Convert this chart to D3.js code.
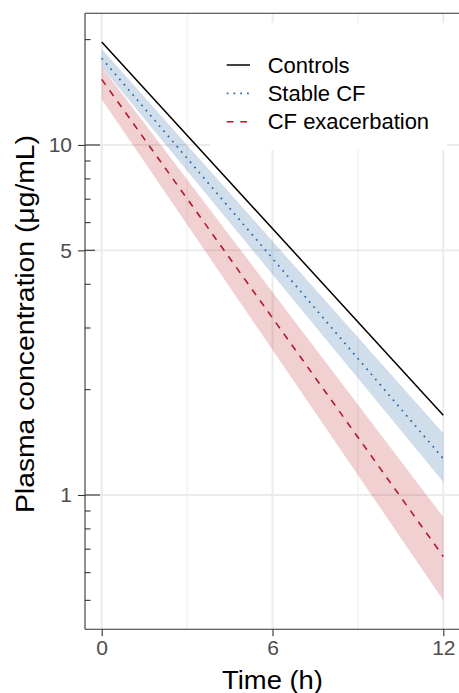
<!DOCTYPE html>
<html>
<head>
<meta charset="utf-8">
<script src="https://cdn.jsdelivr.net/npm/d3@7"></script>
<style>
  html, body { margin: 0; padding: 0; background: #fff; }
  svg { display: block; font-family: "Liberation Sans", Arial, sans-serif; }
</style>
</head>
<body>
<svg id="chart" width="459" height="693"></svg>
<script>
// ---- data ----
const times = [0, 12];
const seriesNames = ["Controls", "Stable CF", "CF exacerbation"];
const controlsMean = [19.7, 1.69];
const stableMean = [17.7, 1.27];
const stableLower = [16.7, 1.09];
const stableUpper = [18.8, 1.50];
const exacMean = [15.4, 0.667];
const exacLower = [13.5, 0.50];
const exacUpper = [16.7, 0.865];
const xTicks = [0, 6, 12];
const xMinorGrid = [3, 9];
const yTicks = [1, 5, 10];
const yTickLabels = ["1", "5", "10"];
const yLogTicks = [0.5, 0.6, 0.7, 0.8, 0.9, 1, 2, 3, 4, 5, 6, 7, 8, 9, 10, 20];

// ---- layout ----
const svg = d3.select("#chart");
const panel = { left: 85, top: 13.3, right: 461, bottom: 629.3 };

const x = d3.scaleLinear().domain([0, 12]).range([101.7, 443.3]);
const y = d3.scaleLog().domain([0.4133, 23.78]).range([panel.bottom, panel.top]);

const colors = {
  controls: "#000000",
  stable: "#2166AC",
  exac: "#B2182B",
  stableFill: "#2A64A6",
  exacFill: "#C0282E"
};

// grid
const grid = svg.append("g");
xMinorGrid.forEach(t => grid.append("line")
  .attr("x1", x(t)).attr("x2", x(t)).attr("y1", panel.top).attr("y2", panel.bottom)
  .attr("stroke", "#EBEBEB").attr("stroke-width", 1));
xTicks.forEach(t => grid.append("line")
  .attr("x1", x(t)).attr("x2", x(t)).attr("y1", panel.top).attr("y2", panel.bottom)
  .attr("stroke", "#EBEBEB").attr("stroke-width", 2));
yTicks.forEach(t => grid.append("line")
  .attr("x1", panel.left).attr("x2", panel.right).attr("y1", y(t)).attr("y2", y(t))
  .attr("stroke", "#EBEBEB").attr("stroke-width", 2));

// data
const rows = (lo, hi) => times.map((t, i) => ({ t, lo: lo[i], hi: hi[i] }));
const area = d3.area().x(d => x(d.t)).y0(d => y(d.lo)).y1(d => y(d.hi));
const line = d3.line().x(d => x(d.t)).y(d => y(d.v));
const pts = arr => times.map((t, i) => ({ t, v: arr[i] }));

svg.append("path").datum(rows(stableLower, stableUpper)).attr("d", area)
  .attr("fill", colors.stableFill).attr("fill-opacity", 0.22);
svg.append("path").datum(rows(exacLower, exacUpper)).attr("d", area)
  .attr("fill", colors.exacFill).attr("fill-opacity", 0.22);

svg.append("path").datum(pts(controlsMean)).attr("d", line)
  .attr("fill", "none").attr("stroke", colors.controls).attr("stroke-width", 1.5);
svg.append("path").datum(pts(stableMean)).attr("d", line)
  .attr("fill", "none").attr("stroke", colors.stable).attr("stroke-width", 1.7)
  .attr("stroke-dasharray", "1.7,5.1");
svg.append("path").datum(pts(exacMean)).attr("d", line)
  .attr("fill", "none").attr("stroke", colors.exac).attr("stroke-width", 1.6)
  .attr("stroke-dasharray", "6.8,6.8");

// axes lines
svg.append("line").attr("x1", panel.left).attr("x2", panel.left)
  .attr("y1", panel.top).attr("y2", panel.bottom).attr("stroke", "#333").attr("stroke-width", 1.1);
svg.append("line").attr("x1", panel.left).attr("x2", panel.right)
  .attr("y1", panel.bottom).attr("y2", panel.bottom).attr("stroke", "#333").attr("stroke-width", 1.1);
svg.append("line").attr("x1", panel.left).attr("x2", panel.right)
  .attr("y1", panel.top).attr("y2", panel.top).attr("stroke", "#333").attr("stroke-width", 1.1);

// x axis
const xAxis = d3.axisBottom(x).tickValues(xTicks).tickSize(7).tickPadding(4).tickFormat(d3.format("d"));
const gx = svg.append("g").attr("transform", `translate(0,${panel.bottom})`).call(xAxis);
gx.select(".domain").remove();
gx.selectAll(".tick line").attr("stroke", "#333").attr("stroke-width", 1.1);
gx.selectAll(".tick text").attr("fill", "#4D4D4D").attr("font-size", 21)
  .attr("font-family", "Liberation Sans, Arial, sans-serif");

// y axis
const yAxis = d3.axisLeft(y).tickValues(yTicks).tickSize(7).tickPadding(6)
  .tickFormat((d, i) => yTickLabels[i]);
const gy = svg.append("g").attr("transform", `translate(${panel.left},0)`).call(yAxis);
gy.select(".domain").remove();
gy.selectAll(".tick line").attr("stroke", "#333").attr("stroke-width", 1.1);
gy.selectAll(".tick text").attr("fill", "#4D4D4D").attr("font-size", 21)
  .attr("font-family", "Liberation Sans, Arial, sans-serif");

// log ticks inside the panel
svg.append("g").selectAll("line").data(yLogTicks).join("line")
  .attr("x1", panel.left)
  .attr("x2", d => {
    const l = Math.log10(d);
    if (Math.abs(l - Math.round(l)) < 1e-9) return panel.left + 15;
    if (d === 5) return panel.left + 10;
    return panel.left + 5.5;
  })
  .attr("y1", d => y(d)).attr("y2", d => y(d))
  .attr("stroke", "#333").attr("stroke-width", 1.1);

// titles
svg.append("text").attr("x", x(6)).attr("y", 688.5)
  .attr("text-anchor", "middle").attr("font-size", 25.5).attr("fill", "#000")
  .attr("textLength", 101).attr("lengthAdjust", "spacingAndGlyphs")
  .text("Time (h)");
svg.append("text")
  .attr("transform", `translate(33.5,${(135 + 513) / 2}) rotate(-90)`)
  .attr("text-anchor", "middle").attr("font-size", 25).attr("fill", "#000")
  .attr("textLength", 378).attr("lengthAdjust", "spacingAndGlyphs")
  .text("Plasma concentration (μg/mL)");

// legend
const legend = svg.append("g");
legend.append("rect").attr("x", 210).attr("y", 23).attr("width", 237).attr("height", 127)
  .attr("fill", "#fff");
const legendStyles = [
  { color: colors.controls, dash: null, w: 1.5 },
  { color: colors.stable, dash: "1.7,5.1", w: 1.7 },
  { color: colors.exac, dash: "6.8,6.8", w: 1.6 }
];
const legendY = d3.scalePoint().domain(seriesNames).range([65, 121.7]);
seriesNames.forEach((name, i) => {
  const ly = legendY(name);
  legend.append("line").attr("x1", 226.7).attr("x2", 250).attr("y1", ly).attr("y2", ly)
    .attr("stroke", legendStyles[i].color).attr("stroke-width", legendStyles[i].w)
    .attr("stroke-dasharray", legendStyles[i].dash);
  legend.append("text").attr("x", 267.7).attr("y", ly).attr("dy", "0.35em")
    .attr("font-size", 22).attr("fill", "#000").text(name);
});
</script>
</body>
</html>
